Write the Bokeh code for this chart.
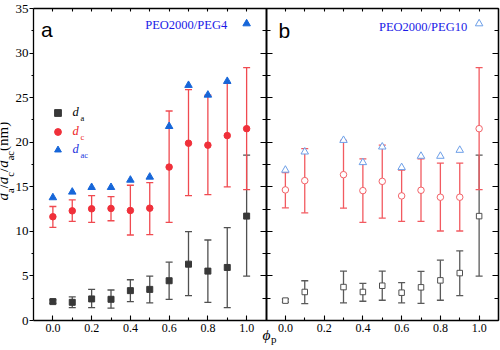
import numpy as np
from bokeh.plotting import figure
from bokeh.models import (Range1d, LinearAxis, FixedTicker, Whisker, TeeHead,
                          ColumnDataSource, Label, Legend, LegendItem,
                          CustomJSTickFormatter)
from bokeh.core.properties import value
from bokeh.embed import file_html
from bokeh.resources import INLINE

# ---------------- data (panel a: PEO2000/PEG4) ----------------
phi_a = [0.0, 0.1, 0.2, 0.3, 0.4, 0.5, 0.6, 0.7, 0.8, 0.9, 1.0]
da_a = [2.12, 2.04, 2.42, 2.38, 3.35, 3.49, 4.46, 6.32, 5.54, 5.95, 11.71]
da_a_lo = [1.92, 1.45, 1.45, 1.38, 2.12, 1.97, 2.38, 2.79, 2.04, 1.45, 4.98]
da_a_hi = [2.32, 2.64, 3.49, 3.42, 4.57, 4.98, 6.54, 9.96, 9.03, 10.41, 18.55]
dc_a = [11.64, 12.30, 12.53, 12.57, 12.34, 12.60, 17.21, 19.89, 19.67, 20.74, 21.52]
dc_a_lo = [10.45, 11.12, 11.00, 11.19, 9.59, 9.63, 11.00, 14.01, 14.13, 14.98, 14.68]
dc_a_hi = [12.79, 13.53, 14.01, 13.90, 15.17, 15.46, 23.50, 25.90, 25.27, 26.60, 28.37]
dac_a = [13.79, 14.42, 14.94, 14.94, 15.76, 16.10, 21.78, 26.39, 25.30, 26.84, 33.30]

# ---------------- data (panel b: PEO2000/PEG10) ----------------
phi_b = [0.0, 0.1, 0.3, 0.4, 0.5, 0.6, 0.7, 0.8, 0.9, 1.0]
da_b = [2.23, 3.20, 3.75, 3.20, 3.90, 3.12, 3.72, 4.50, 5.32, 11.71]
da_b_lo = [2.05, 1.90, 1.97, 2.16, 2.27, 1.97, 1.93, 2.27, 2.79, 4.98]
da_b_hi = [2.41, 4.46, 5.54, 4.16, 5.54, 4.24, 5.50, 6.77, 7.81, 18.55]
dc_b = [14.65, 15.69, 16.36, 14.57, 15.61, 13.98, 14.61, 13.83, 13.83, 21.52]
dc_b_lo = [12.64, 12.08, 12.60, 11.00, 11.49, 11.12, 11.12, 10.04, 10.04, 14.68]
dc_b_hi = [16.58, 19.29, 20.19, 18.14, 19.67, 16.88, 18.14, 17.66, 17.66, 28.37]
dac_b = [16.88, 18.92, 20.22, 17.73, 19.48, 17.17, 18.44, 18.44, 19.11, 33.30]

series_a_name = "PEO2000/PEG4"
series_b_name = "PEO2000/PEG10"

# ticks
X_MAJOR = [0.0, 0.2, 0.4, 0.6, 0.8, 1.0]
X_MINOR = [0.1, 0.3, 0.5, 0.7, 0.9]
Y_MAJOR = [0, 5, 10, 15, 20, 25, 30, 35]
Y_MINOR = [2.5, 7.5, 12.5, 17.5, 22.5, 27.5, 32.5]
X_LO, X_HI = -0.1, 1.1
Y_LO, Y_HI = 0, 35
B_SHIFT = X_HI - X_LO  # panel b sits right of panel a on the primary x range

# canvas geometry of the boxed plotting area
W, H = 500, 350
BOX_L, BOX_R, BOX_T, BOX_B = 33, 498, 8, 320
ux = (BOX_R - BOX_L) / (2 * B_SHIFT)
uy = (BOX_B - BOX_T) / (Y_HI - Y_LO)
xr = Range1d(X_LO - BOX_L / ux, X_HI + B_SHIFT + (W - BOX_R) / ux)
yr = Range1d(Y_LO - (H - BOX_B) / uy, Y_HI + BOX_T / uy)

SERIF = "Liberation Serif"
BLACK_M = "#383838"
RED_M = "#f0303a"
BLUE_M = "#1666d9"
RED_E = "#f04a50"
BLACK_E = "#505050"

p = figure(width=W, height=H, x_range=xr, y_range=yr, output_backend="svg",
           toolbar_location=None, x_axis_location=None, y_axis_location=None,
           min_border_left=0, min_border_right=0, min_border_top=0, min_border_bottom=0)
p.extra_x_ranges = {"b": Range1d(xr.start - B_SHIFT, xr.end - B_SHIFT)}
p.outline_line_color = None
p.background_fill_color = "white"
p.border_fill_color = "white"
for g in list(p.xgrid) + list(p.ygrid):
    g.visible = False

XB = (X_LO, X_HI + B_SHIFT)
YB = (Y_LO, Y_HI)


def axis(side, loc, ticks, minor, bounds, tin=0, tout=0, mtin=0, mtout=0, **kw):
    ax = LinearAxis(fixed_location=loc, ticker=FixedTicker(ticks=ticks, minor_ticks=minor),
                    bounds=bounds, major_tick_in=tin, major_tick_out=tout,
                    minor_tick_in=mtin, minor_tick_out=mtout, axis_line_color="black",
                    axis_line_width=1.3, major_tick_line_width=1.1, minor_tick_line_width=1.1,
                    **kw)
    p.add_layout(ax, side)
    return ax


# bottom axis with labels for both panels
bt = [round(t, 2) for t in X_MAJOR] + [round(t + B_SHIFT, 2) for t in X_MAJOR]
bm = [round(t, 2) for t in X_MINOR] + [round(t + B_SHIFT, 2) for t in X_MINOR]
axis("below", Y_LO, bt, bm, XB, tin=5, mtin=3,
     formatter=CustomJSTickFormatter(code="return (tick > 1.15 ? tick - 1.2 : tick).toFixed(1)"),
     major_label_standoff=3, major_label_text_font=SERIF, major_label_text_font_size="12px",
     major_label_text_color="black")

# left axis with labels
axis("left", X_LO, Y_MAJOR, Y_MINOR, YB, tout=4, mtout=2, major_label_standoff=1,
     major_label_text_font=SERIF, major_label_text_font_size="13px",
     major_label_text_color="black")

# top edge: inward ticks every 0.1 in both panels
tt = [round(t, 2) for t in sorted(X_MAJOR + X_MINOR)]
axis("above", Y_HI, [], tt + [round(t + B_SHIFT, 2) for t in tt], XB, mtin=3)

# right edge and the divider between panels: inward ticks
for side, loc in [("right", X_HI + B_SHIFT), ("right", X_HI), ("left", X_HI)]:
    axis(side, loc, [], Y_MAJOR, YB, mtin=6)
    axis(side, loc, [], Y_MINOR, YB, mtin=4)


def whisker(x, lo, hi, color, rng=None):
    src = ColumnDataSource(dict(x=x, lo=lo, hi=hi))
    w = Whisker(base="x", lower="lo", upper="hi", source=src, dimension="height",
                line_color=color, line_width=1.3, level="underlay",
                upper_head=TeeHead(size=7, line_color=color, line_width=1.3),
                lower_head=TeeHead(size=7, line_color=color, line_width=1.3))
    if rng:
        w.x_range_name = rng
    p.add_layout(w)


whisker(phi_a, da_a_lo, da_a_hi, BLACK_E)
whisker(phi_a, dc_a_lo, dc_a_hi, RED_E)
whisker(phi_b, da_b_lo, da_b_hi, "#5a5a5a", "b")
whisker(phi_b, dc_b_lo, dc_b_hi, "#f25a60", "b")

# panel a markers (filled)
r_sq = p.scatter(phi_a, da_a, marker="square", size=6, fill_color=BLACK_M, line_color=BLACK_M)
r_ci = p.scatter(phi_a, dc_a, marker="circle", size=6.5, fill_color=RED_M, line_color=RED_M)
r_tr = p.scatter(phi_a, dac_a, marker="triangle", size=7.5, fill_color=BLUE_M, line_color=BLUE_M)

# panel b markers (open)
p.scatter(phi_b, da_b, marker="square", size=5.5, fill_color="white", line_color="#505050",
          line_width=1, x_range_name="b")
p.scatter(phi_b, dc_b, marker="circle", size=6.5, fill_color="white", line_color="#f26268",
          line_width=1, x_range_name="b")
p.scatter(phi_b, dac_b, marker="triangle", size=7.5, fill_color="white", line_color="#6d9fe8",
          line_width=1, x_range_name="b")

# legend (panel a): one legend per entry so that each label keeps its own colour
GH, LH = 17, 23
for rend, col, cy in [(r_sq, "black", 109.5), (r_ci, "#ee2222", 128), (r_tr, "#2233dd", 146.5)]:
    p.add_layout(Legend(items=[LegendItem(label=value("d"), renderers=[rend])],
                        location=(57 - GH / 2, H - (cy - GH / 2 + LH)), glyph_width=GH,
                        glyph_height=GH, label_height=LH, label_standoff=7, label_text_font=SERIF,
                        label_text_font_style="italic", label_text_font_size="12.5px",
                        label_text_color=col, padding=0, margin=0, spacing=0,
                        border_line_alpha=0, background_fill_alpha=0))


# ---------------- text helpers (canvas pixel positions) ----------------
def lab(text, X, Y, size, color="black", style="normal", font=SERIF, align="left", angle=0.0):
    p.add_layout(Label(x=X, y=H - Y, x_units="screen", y_units="screen", text=text,
                       text_font=font, text_font_size=f"{size}px", text_font_style=style,
                       text_color=color, text_align=align, text_baseline="alphabetic",
                       angle=angle))


ASC = 0.891  # ascent of Liberation Serif, in em


def rich(parts, X, Y, vertical=False):
    pos = 0.0
    for text, size, style, shift, em, color in parts:
        if vertical:
            # rotated labels are placed by the left edge of their box (the ascent side)
            lab(text, X + shift - ASC * size, Y - pos, size, color, style, angle=np.pi / 2)
        else:
            lab(text, X + pos, Y + shift, size, color, style)
        pos += em * size


# y axis label  d_a/d_c/d_ac (nm)
M, S = 15, 10.5
rich([("d", M, "italic", 0, 0.5, "black"), ("a", S, "normal", 3, 0.444, "black"),
      ("/", M, "normal", 0, 0.278, "black"),
      ("d", M, "italic", 0, 0.5, "black"), ("c", S, "normal", 3, 0.444, "black"),
      ("/", M, "normal", 0, 0.278, "black"),
      ("d", M, "italic", 0, 0.5, "black"), ("ac", S, "normal", 3, 0.888, "black"),
      (" (nm)", M, "normal", 0, 2.3, "black")], 16, 200, vertical=True)

# x axis label  phi_p
lab("ϕ", 262, 333.5, 15.5, style="italic")
lab("p", 270.5, 338, 11)

# legend subscripts
for (col, sub, yb) in [("black", "a", 117.5), ("#ee2222", "c", 136), ("#2233dd", "ac", 154.5)]:
    lab(sub, 80, yb, 8.5, col)

# panel letters
lab("a", 40.5, 29, 21, font="Liberation Sans")
lab("b", 278, 30, 21, font="Liberation Sans")

# series names
lab(series_a_name, 226.7, 24.5, 12.5, "#1a1ae6", align="right")
lab(series_b_name, 466.7, 26.5, 12.5, "#1a1ae6", align="right")

open("out.html", "w").write(file_html(p, INLINE))
